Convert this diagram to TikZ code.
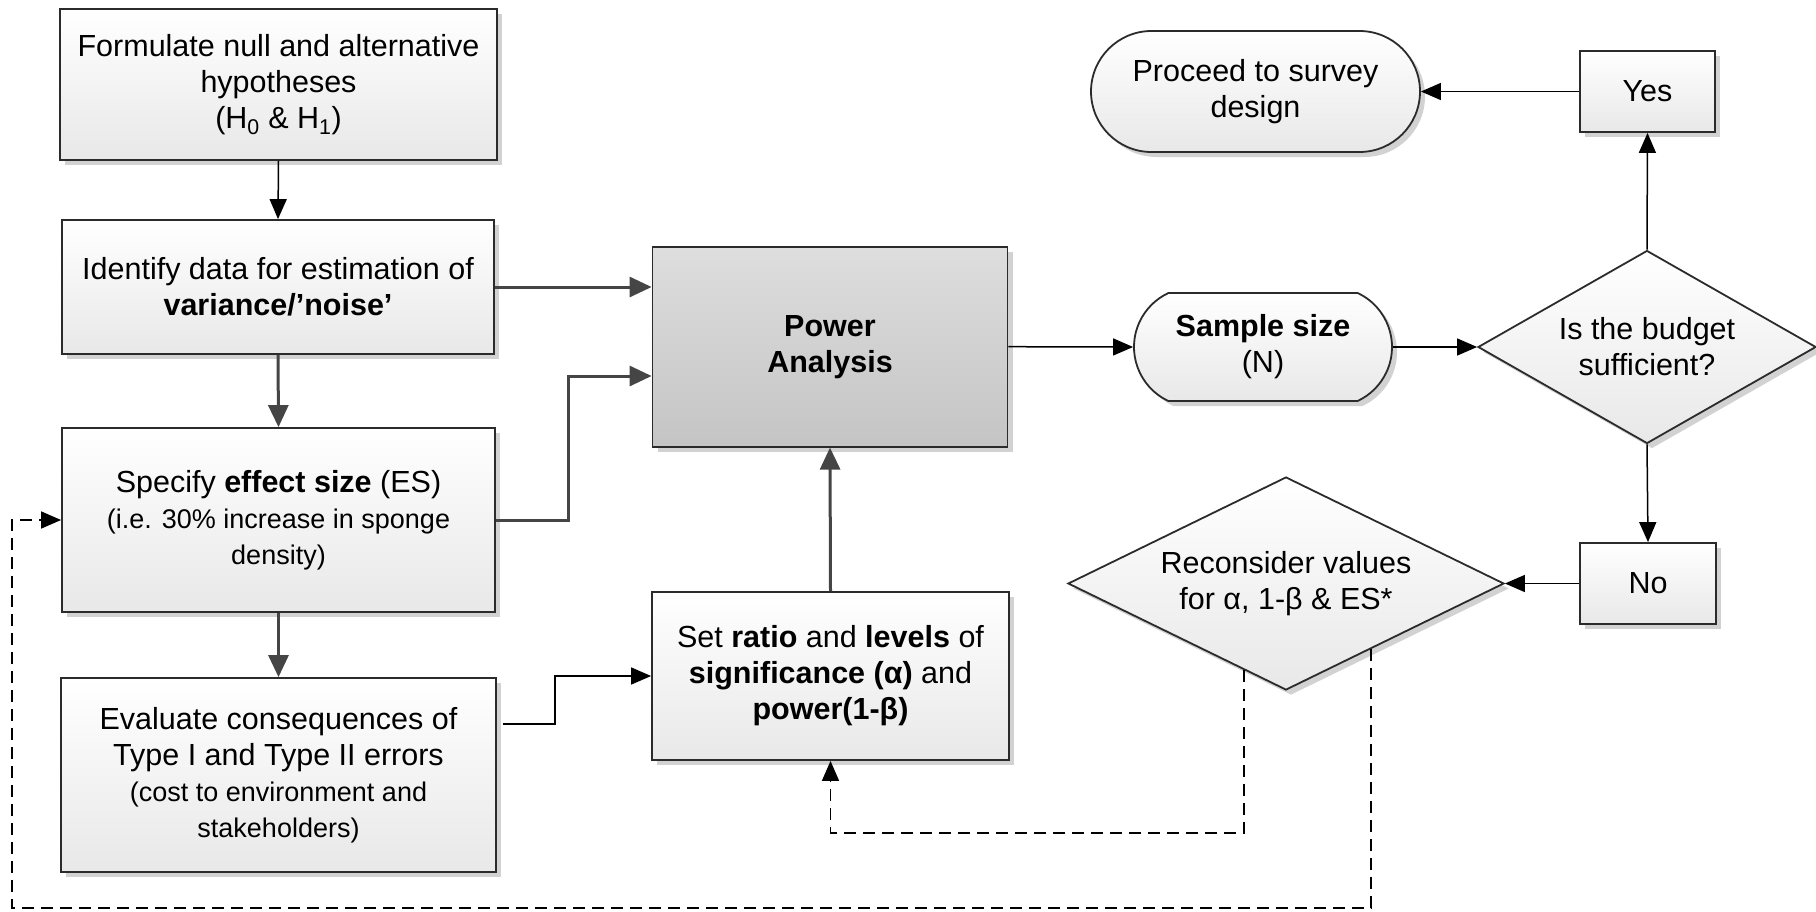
\documentclass[tikz,border=0pt]{standalone}
\usepackage{fontspec}
\setmainfont{Liberation Sans}
\usetikzlibrary{arrows.meta,shapes.geometric,shapes.misc,shadows,calc}
\definecolor{bordc}{HTML}{2B2B2B}
\definecolor{linec}{HTML}{454545}
\definecolor{shadc}{HTML}{D2D2D2}
\newcommand\smalltxt{\fontsize{27}{36}\selectfont}
\begin{document}
\begin{tikzpicture}[x=1pt,y=1pt,
  base/.style={draw=bordc, line width=1.8pt, align=center, inner sep=0pt,
    font=\fontsize{30.5}{36}\selectfont, top color=white, bottom color=black!9,
    drop shadow={shadow xshift=5pt, shadow yshift=-5pt, fill=shadc, opacity=1}},
  box/.style={base, rectangle},
  powerbox/.style={base, rectangle, top color=black!13, bottom color=black!23},
  stadium/.style={base, rounded rectangle},
  decision/.style={base, diamond},
  thinarr/.style={draw=black, line width=1.5pt, -{Triangle[length=20pt,width=17pt]}},
  thickarr/.style={draw=linec, line width=3pt, -{Triangle[length=22pt,width=20pt]}},
  dasharr/.style={draw=black, line width=1.5pt, dash pattern=on 12pt off 7pt, -{Triangle[length=20pt,width=17pt]}}
]
\useasboundingbox (0,0) rectangle (1816,-911);

\node[box, minimum width=437pt, minimum height=151pt] (A) at (278.5,-84.5)
  {Formulate null and alternative\\hypotheses\\(H\textsubscript{0} \& H\textsubscript{1})};
\node[box, minimum width=432pt, minimum height=134pt] (B) at (278,-287)
  {Identify data for estimation of\\\textbf{variance/’noise’}};
\node[box, minimum width=433pt, minimum height=184pt] (C) at (278.5,-520)
  {Specify \textbf{effect size} (ES)\\{\smalltxt (i.e. 30\% increase in sponge}\\{\smalltxt density)}};
\node[box, minimum width=435pt, minimum height=194pt] (D) at (278.5,-775)
  {Evaluate consequences of\\Type I and Type II errors\\{\smalltxt (cost to environment and}\\{\smalltxt stakeholders)}};
\node[box, minimum width=357pt, minimum height=168pt] (E) at (830.5,-676)
  {Set \textbf{ratio} and \textbf{levels} of\\\textbf{significance (α)} and\\\textbf{power(1-β)}};
\node[powerbox, minimum width=355pt, minimum height=200pt] (P) at (830,-346.7)
  {\textbf{Power}\\\textbf{Analysis}};
\node[stadium, rounded rectangle arc length=130, minimum width=258pt, minimum height=108pt] (S) at (1263,-347)
  {\textbf{Sample size}\\(N)};
\node[decision, aspect=1.75, minimum width=338pt, minimum height=193pt] (Bud) at (1647,-347)
  {Is the budget\\sufficient?};
\node[box, minimum width=135pt, minimum height=81pt] (Yes) at (1647.5,-91.5) {Yes};
\node[stadium, minimum width=329pt, minimum height=121pt] (Pro) at (1255.5,-91.5)
  {Proceed to survey\\design};
\node[box, minimum width=136pt, minimum height=81pt] (No) at (1648,-583.5) {No};
\node[decision, aspect=2.05, minimum width=436pt, minimum height=213pt] (R) at (1286,-583.5)
  {Reconsider values\\for α, 1-β \& ES*};

\coordinate (c1) at (568,-376);
\coordinate (r1) at (1244,-833);
\coordinate (r2) at (1371,-908);
\coordinate (r3) at (12,-908);

\draw[thinarr] (A.south) -- (B.north);
\draw[thickarr] (B.south) -- (C.north);
\draw[thickarr] (B.east) -- (B.east -| P.west);
\draw[thickarr] (C.east) -| (c1) -- (c1 -| P.west);
\draw[thickarr] (C.south) -- (D.north);
\draw[thinarr] ($(D.east)+(6,51)$) -| ($(E.west)+(-96,0)$) -- (E.west);
\draw[thickarr] (E.north) -- (P.south);
\draw[thinarr] (P.east) -- (S.west);
\draw[thinarr] (S.east) -- (Bud.west);
\draw[thinarr] (Bud.north) -- (Yes.south);
\draw[thinarr] (Yes.west) -- (Pro.east);
\draw[thinarr] (Bud.south) -- (No.north);
\draw[thinarr] (No.west) -- (R.east);
\draw[dasharr] ($(R.south)+(-42,20.5)$) -- (r1) -| (E.south);
\draw[dasharr] ($(R.south)+(85,41.5)$) -- (r2) -- (r3) |- (C.west);
\end{tikzpicture}
\end{document}
